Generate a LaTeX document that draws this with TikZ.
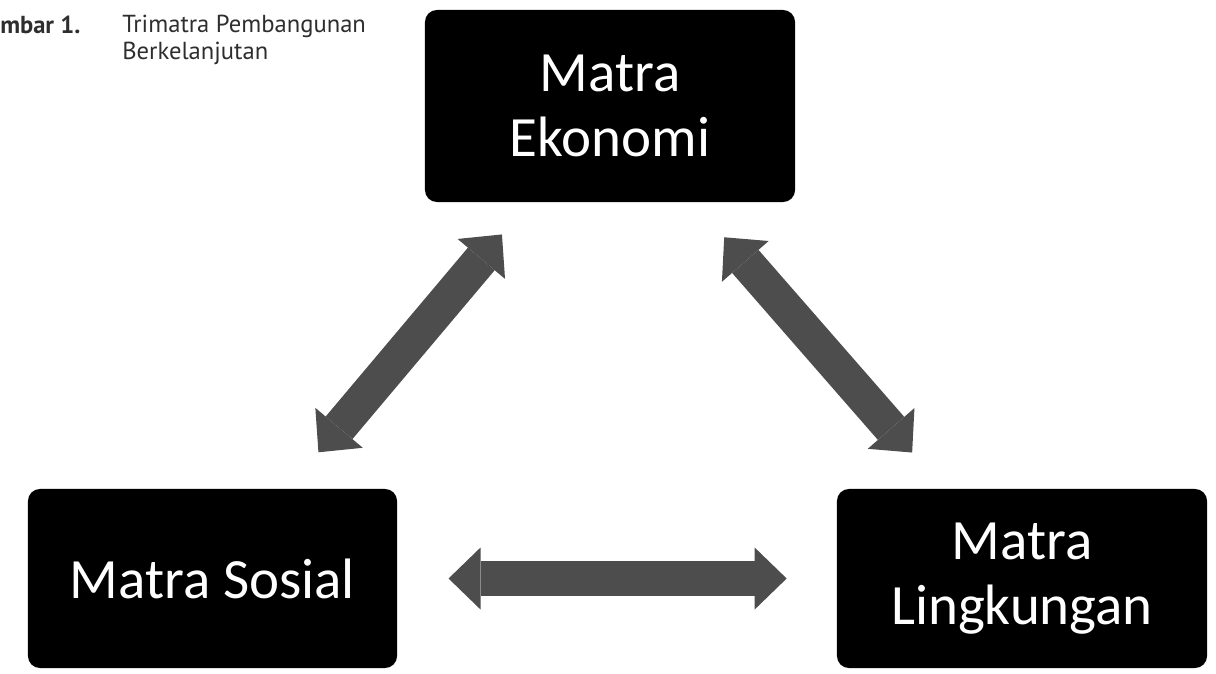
\documentclass[tikz,border=0pt]{standalone}
\usepackage{fontspec}
\usepackage{tikz}
\usetikzlibrary{arrows.meta}
\newfontfamily\boxfont{Carlito}
\newfontfamily\capfont{PT Sans}
\definecolor{arrowgray}{HTML}{4D4D4D}
\definecolor{capgray}{HTML}{2E2E2E}

\begin{document}
\begin{tikzpicture}[x=0.025cm,y=-0.025cm]
  \tikzset{
    matra/.style={fill=black,rounded corners=0.3cm,text=white,align=center,inner sep=0pt,
      font=\boxfont\fontsize{40.5}{46}\selectfont},
    twoway/.style={{Triangle[width=1.55cm,length=0.8cm,line width=0pt]}-{Triangle[width=1.55cm,length=0.8cm,line width=0pt]},
      draw=arrowgray,line width=0.875cm},
  }
  \useasboundingbox (0,0) rectangle (1216,673);

  \node[anchor=base west,text=capgray,inner sep=0pt,font=\capfont\fontsize{17.5}{18}\selectfont\bfseries] (fignum) at (0,33) {mbar 1.};
  \node[anchor=base west,text=capgray,align=left,inner sep=0pt,font=\capfont\fontsize{17.5}{18.5}\selectfont] (figtitle) at (122,59) {Trimatra Pembangunan\\Berkelanjutan};

  \node[matra,minimum width=9.25cm,minimum height=4.8cm] (ekonomi) at (610,106) {Matra\\Ekonomi};
  \node[matra,minimum width=9.225cm,minimum height=4.475cm] (sosial) at (212.5,578.5) {Matra Sosial};
  \node[matra,minimum width=9.25cm,minimum height=4.475cm] (lingkungan) at (1022,578.5) {Matra\\Lingkungan};

  \draw [twoway,shorten <=1.19cm,shorten >=1.05cm] (sosial) -- (ekonomi);
  \draw [twoway,shorten <=1.16cm,shorten >=1.2cm] (ekonomi) -- (lingkungan);
  \draw [twoway,shorten <=1.28cm,shorten >=1.25cm] (sosial) -- (lingkungan);
\end{tikzpicture}
\end{document}
